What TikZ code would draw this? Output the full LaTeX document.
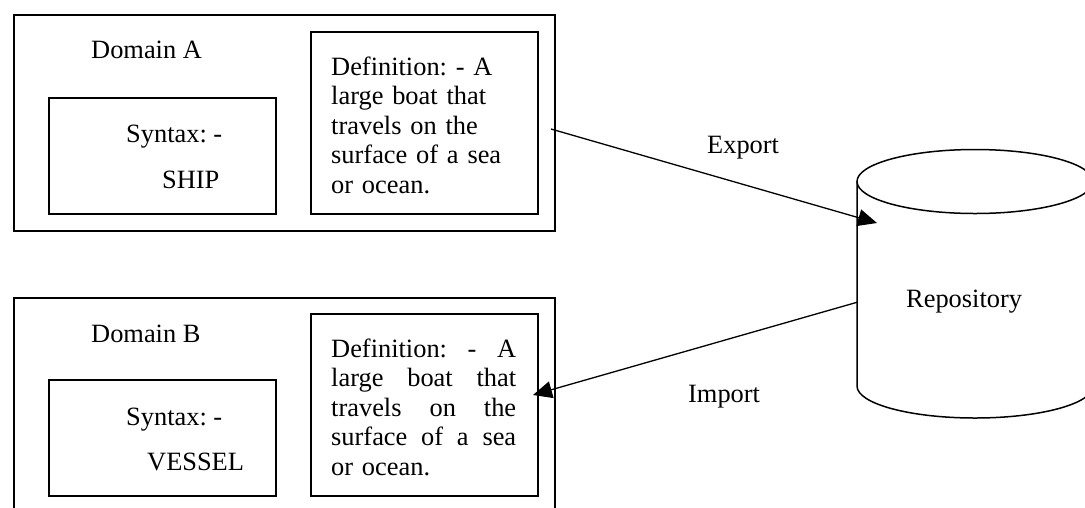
\documentclass[tikz,border=0pt]{standalone}
\usepackage{fontspec}
\setmainfont{Liberation Serif}
\usetikzlibrary{arrows.meta}

\tikzset{
  frame/.style={draw=black, line width=1.5pt, fill=none, inner sep=0pt, anchor=north west},
  txt/.style={font=\frenchspacing\fontsize{26.4}{29.5}\selectfont, inner sep=0pt, anchor=base west},
  deftxt/.style={txt, text width=185pt, align=left},
  flow/.style={line width=1.3pt, -{Triangle[length=19pt,width=17pt]}},
}
% a full-width line with its words spread evenly
\newcommand{\jline}[1]{\leavevmode\hbox to 185pt{#1}}

\begin{document}
\begin{tikzpicture}[x=1pt, y=-1pt]
  \useasboundingbox (0,0) rectangle (1085,507);
  \clip (0,0) rectangle (1085,507);

  % Domain A
  \node[frame, minimum width=541pt, minimum height=216pt] (domA) at (13,14) {};
  \node[frame, minimum width=227pt, minimum height=116pt] (synA) at (48,97) {};
  \node[frame, minimum width=227pt, minimum height=182pt] (defA) at (310,31) {};
  \node[txt] (domAlbl) at (91,58) {Domain A};
  \node[txt] (synAlbl) at (126,142) {Syntax: -};
  \node[txt] (synAval) at (162,188) {SHIP};
  \node[deftxt] (defAtxt) at (331,75)
    {Definition: - A\\large boat that\\travels on the\\surface of a sea\\or ocean.};

  % Domain B (runs past the lower edge)
  \node[frame, minimum width=541pt, minimum height=260pt] (domB) at (13,297) {};
  \node[frame, minimum width=227pt, minimum height=116pt] (synB) at (48,379) {};
  \node[frame, minimum width=227pt, minimum height=182pt] (defB) at (310,313) {};
  \node[txt] (domBlbl) at (91,342) {Domain B};
  \node[txt] (synBlbl) at (126,425) {Syntax: -};
  \node[txt] (synBval) at (147,470) {VESSEL};
  \node[deftxt] (defBtxt) at (331,357)
    {\jline{Definition:\hfill-\hfill A}\\\jline{large\hfill boat\hfill that}\\\jline{travels\hfill on\hfill the}\\\jline{surface\hfill of\hfill a\hfill sea}\\or ocean.};

  % Repository cylinder
  \def\cx{975}\def\rx{118}\def\ry{32}\def\ctop{181.5}\def\cbot{386}
  \fill[white] (\cx-\rx,\ctop) -- (\cx-\rx,\cbot) arc[start angle=180, end angle=0, x radius=\rx, y radius=\ry] -- (\cx+\rx,\ctop) -- cycle;
  \draw[line width=1.5pt] (\cx-\rx,\ctop) -- (\cx-\rx,\cbot)
    arc[start angle=180, end angle=0, x radius=\rx, y radius=\ry] -- (\cx+\rx,\ctop);
  \draw[line width=1.5pt, fill=white] (\cx,\ctop) ellipse[x radius=\rx, y radius=\ry];
  \node[txt] (repo) at (906,307) {Repository};

  % Export / Import connectors
  \coordinate (expS) at (551,129);
  \coordinate (expE) at (877,223);
  \coordinate (impS) at (858,302);
  \coordinate (impE) at (533,395);
  \draw[flow] (expS) -- (expE);
  \draw[flow] (impS) -- (impE);
  \node[txt] (explbl) at (707,153) {Export};
  \node[txt] (implbl) at (688,402) {Import};
\end{tikzpicture}
\end{document}
